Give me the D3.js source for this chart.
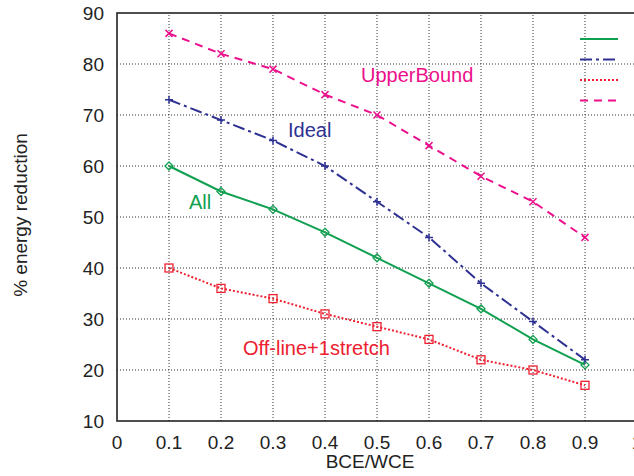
<!DOCTYPE html>
<html lang="en">
<head>
  <meta charset="utf-8">
  <title></title>
  <script src="https://d3js.org/d3.v7.min.js"></script>
</head>
<style>
body { margin: 0; background: white; }
text { font-family: "Liberation Sans", Arial, sans-serif; }
.tick-label { font-size: 19px; fill: #222; }
.grid { stroke: #333; stroke-width: 1; stroke-dasharray: 1,2; }
.frame { stroke: #222; stroke-width: 1.6; fill: none; }
.series-label { font-size: 20px; }
</style>
<body>
  <div class="chart"></div>

  <script type="text/javascript">
  var xValues = [0.1, 0.2, 0.3, 0.4, 0.5, 0.6, 0.7, 0.8, 0.9];
  var allValues = [60, 55, 51.5, 47, 42, 37, 32, 26, 21];
  var idealValues = [73, 69, 65, 60, 53, 46, 37, 29.5, 22];
  var offlineValues = [40, 36, 34, 31, 28.5, 26, 22, 20, 17];
  var upperValues = [86, 82, 79, 74, 70, 64, 58, 53, 46];
  var seriesNames = ["All", "Ideal", "Off-line+1stretch", "UpperBound"];
  var xTicks = [0, 0.1, 0.2, 0.3, 0.4, 0.5, 0.6, 0.7, 0.8, 0.9, 1];
  var yTicks = [10, 20, 30, 40, 50, 60, 70, 80, 90];

  var width = 634, height = 476;
  var margin = {left: 117, top: 13, right: -3, bottom: 55};

  var svg = d3.select(".chart")
    .append("svg")
    .attr("width", width)
    .attr("height", height);

  var x = d3.scaleLinear().domain([0, 1]).range([margin.left, width - margin.right]);
  var y = d3.scaleLinear().domain([10, 90]).range([height - margin.bottom, margin.top]);

  // grid
  svg.selectAll(".vgrid")
    .data(xTicks.slice(1, -1))
    .enter().append("line")
    .attr("class", "grid")
    .attr("x1", function(d){ return x(d); })
    .attr("x2", function(d){ return x(d); })
    .attr("y1", y(10)).attr("y2", y(90));
  svg.selectAll(".hgrid")
    .data(yTicks.slice(1, -1))
    .enter().append("line")
    .attr("class", "grid")
    .attr("x1", x(0)).attr("x2", x(1))
    .attr("y1", function(d){ return y(d); })
    .attr("y2", function(d){ return y(d); });

  svg.append("rect")
    .attr("class", "frame")
    .attr("x", x(0)).attr("y", y(90))
    .attr("width", x(1) - x(0)).attr("height", y(10) - y(90));

  // tick labels
  svg.selectAll(".xlab")
    .data(xTicks)
    .enter().append("text")
    .attr("class", "tick-label")
    .attr("x", function(d){ return x(d); })
    .attr("y", y(10) + 28)
    .attr("text-anchor", "middle")
    .text(function(d){ return d; });
  svg.selectAll(".ylab")
    .data(yTicks)
    .enter().append("text")
    .attr("class", "tick-label")
    .attr("x", x(0) - 13)
    .attr("y", function(d){ return y(d) + 7; })
    .attr("text-anchor", "end")
    .text(function(d){ return d; });

  svg.append("text")
    .attr("class", "tick-label")
    .attr("x", 370).attr("y", 468)
    .attr("text-anchor", "middle")
    .text("BCE/WCE");
  svg.append("text")
    .attr("class", "tick-label")
    .attr("transform", "translate(27,215) rotate(-90)")
    .attr("text-anchor", "middle")
    .text("% energy reduction");

  var series = [
    {name: seriesNames[0], values: allValues, color: "#10a050", dash: null, marker: "diamond"},
    {name: seriesNames[1], values: idealValues, color: "#2e3192", dash: "12,4,3,4", marker: "plus"},
    {name: seriesNames[2], values: offlineValues, color: "#ee2030", dash: "2,2", marker: "square"},
    {name: seriesNames[3], values: upperValues, color: "#ec108c", dash: "8,6", marker: "cross"}
  ];

  var line = d3.line()
    .x(function(d, i){ return x(xValues[i]); })
    .y(function(d){ return y(d); });

  series.forEach(function(s) {
    svg.append("path")
      .attr("d", line(s.values))
      .attr("fill", "none")
      .attr("stroke", s.color)
      .attr("stroke-width", 2)
      .attr("stroke-dasharray", s.dash);

    var g = svg.append("g");
    s.values.forEach(function(v, i) {
      var cx = x(xValues[i]), cy = y(v);
      if (s.marker == "diamond") {
        g.append("path")
          .attr("d", `M${cx},${cy-4}L${cx+4},${cy}L${cx},${cy+4}L${cx-4},${cy}Z`)
          .attr("fill", "none").attr("stroke", s.color).attr("stroke-width", 1.3);
      } else if (s.marker == "plus") {
        g.append("path")
          .attr("d", `M${cx-4},${cy}H${cx+4}M${cx},${cy-4}V${cy+4}`)
          .attr("stroke", s.color).attr("stroke-width", 1.5);
      } else if (s.marker == "square") {
        g.append("rect")
          .attr("x", cx - 4).attr("y", cy - 4).attr("width", 8).attr("height", 8)
          .attr("fill", "none").attr("stroke", s.color).attr("stroke-width", 1.3);
      } else {
        g.append("path")
          .attr("d", `M${cx-3.5},${cy-3.5}L${cx+3.5},${cy+3.5}M${cx-3.5},${cy+3.5}L${cx+3.5},${cy-3.5}`)
          .attr("stroke", s.color).attr("stroke-width", 1.5);
      }
    });
  });

  // in-plot labels
  var labelPos = [[189, 209], [288, 137], [243, 355], [361, 82]];
  series.forEach(function(s, i) {
    svg.append("text")
      .attr("class", "series-label")
      .attr("x", labelPos[i][0]).attr("y", labelPos[i][1])
      .attr("fill", s.color)
      .text(s.name);
  });

  // legend (lines only)
  series.forEach(function(s, i) {
    svg.append("line")
      .attr("x1", 580).attr("x2", 618)
      .attr("y1", 39 + i * 20.5).attr("y2", 39 + i * 20.5)
      .attr("stroke", s.color)
      .attr("stroke-width", 2)
      .attr("stroke-dasharray", s.dash);
  });
  </script>
</body>
</html>
